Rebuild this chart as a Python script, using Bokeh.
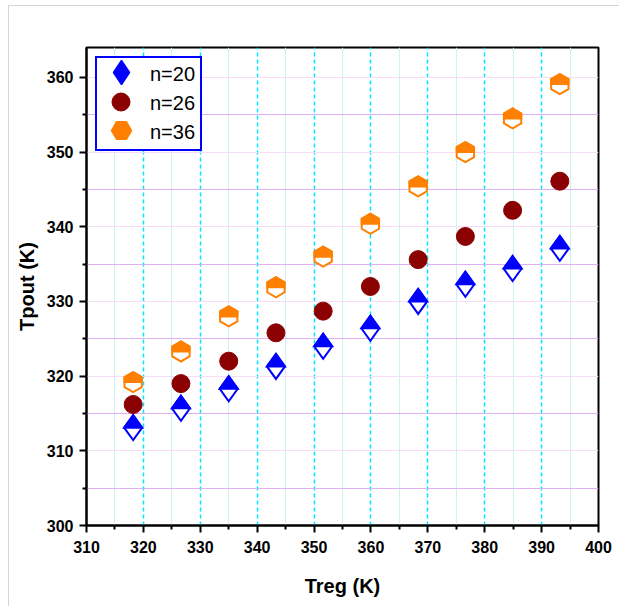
import math
from bokeh.plotting import figure
from bokeh.models import Range1d, Legend, LegendItem, FixedTicker
from bokeh.embed import file_html
from bokeh.resources import INLINE

# ---- data ----
treg = [318.2, 326.6, 335.0, 343.3, 351.6, 359.9, 368.3, 376.6, 384.9, 393.2]
tpout_n20 = [313.1, 315.7, 318.3, 321.3, 324.0, 326.4, 330.0, 332.3, 334.4, 337.1]
tpout_n26 = [316.2, 319.0, 322.0, 325.8, 328.7, 332.0, 335.6, 338.7, 342.2, 346.1]
tpout_n36 = [319.2, 323.3, 328.0, 331.9, 336.0, 340.4, 345.4, 350.0, 354.5, 359.1]
series_labels = ["n=20", "n=26", "n=36"]
x_ticks = [310, 320, 330, 340, 350, 360, 370, 380, 390, 400]
y_ticks = [300, 310, 320, 330, 340, 350, 360]

# ---- layout / style constants ----
X_MIN, X_MAX = 310, 400
Y_MIN, Y_MAX = 300, 364
FRAME_W, FRAME_H = 512, 478
PX_X = FRAME_W / (X_MAX - X_MIN)
PX_Y = FRAME_H / (Y_MAX - Y_MIN)

BLUE = "#0000ff"
DARKRED = "#8b0000"
ORANGE = "#ff8000"
FONT = "Liberation Sans"


def diamond_paths(xs, ys, hw, hh):
    dx, dy = hw / PX_X, hh / PX_Y
    full_x = [[x, x + dx, x, x - dx] for x in xs]
    full_y = [[y + dy, y, y - dy, y] for y in ys]
    top_x = [[x - dx, x, x + dx] for x in xs]
    top_y = [[y, y + dy, y] for y in ys]
    return full_x, full_y, top_x, top_y


def hex_paths(xs, ys, r):
    a = r * 0.8660254 / PX_X
    h = r / PX_Y
    full_x = [[x, x + a, x + a, x, x - a, x - a] for x in xs]
    full_y = [[y + h, y + h / 2, y - h / 2, y - h, y - h / 2, y + h / 2] for y in ys]
    top_x = [[x - a, x - a, x, x + a, x + a] for x in xs]
    top_y = [[y, y + h / 2, y + h, y + h / 2, y] for y in ys]
    return full_x, full_y, top_x, top_y


p = figure(
    frame_width=FRAME_W, frame_height=FRAME_H,
    x_range=Range1d(X_MIN, X_MAX), y_range=Range1d(Y_MIN, Y_MAX),
    output_backend="svg", toolbar_location=None,
    min_border_left=77, min_border_right=22, min_border_top=41, min_border_bottom=81,
    background_fill_color="white", border_fill_color="white",
)
p.styles = {"border-top": "1px solid #d4d4d4", "border-left": "1px solid #d4d4d4"}
p.margin = (5, 0, 0, 8)

p.outline_line_color = "black"
p.outline_line_width = 2

# ticks
p.xaxis.ticker = FixedTicker(ticks=x_ticks, minor_ticks=[t + 5 for t in x_ticks[:-1]])
p.yaxis.ticker = FixedTicker(ticks=y_ticks, minor_ticks=[t + 5 for t in y_ticks])

for ax in (p.xaxis, p.yaxis):
    ax.axis_line_width = 2
    ax.axis_line_color = "black"
    ax.major_tick_in = 0
    ax.major_tick_out = 7
    ax.minor_tick_in = 0
    ax.minor_tick_out = 4
    ax.major_tick_line_width = 2
    ax.minor_tick_line_width = 2
    ax.major_tick_line_color = "black"
    ax.minor_tick_line_color = "black"
    ax.major_label_text_font = FONT
    ax.major_label_text_font_size = "16px"
    ax.major_label_text_font_style = "bold"
    ax.major_label_text_color = "black"
    ax.major_label_standoff = 6
    ax.axis_label_text_font = FONT
    ax.axis_label_text_font_size = "20px"
    ax.axis_label_text_font_style = "bold"
    ax.axis_label_text_color = "black"

p.xaxis.major_label_standoff = 8
p.xaxis.axis_label = "Treg (K)"
p.yaxis.axis_label = "Tpout (K)"
p.xaxis.axis_label_standoff = 19
p.yaxis.axis_label_standoff = 6

# grids
p.xgrid.grid_line_color = "#00e5ff"
p.xgrid.grid_line_dash = "4 3"
p.xgrid.grid_line_width = 1.5
p.xgrid.minor_grid_line_color = "#cdf1f5"
p.xgrid.minor_grid_line_width = 1
p.ygrid.grid_line_color = "#f7dbf7"
p.ygrid.grid_line_width = 1
p.ygrid.minor_grid_line_color = "#dcb0f2"
p.ygrid.minor_grid_line_width = 1

# invisible renderer used by the text part of the legend
r_blank = p.scatter(treg[:1], tpout_n20[:1], marker="circle", size=1,
                    fill_alpha=0, line_alpha=0)

# legend proxies (small, hidden below the half-filled shapes)
r20 = p.scatter(treg, tpout_n20, marker="diamond", size=6,
                fill_color=BLUE, line_color=BLUE, line_width=1.5)
r36 = p.scatter(treg, tpout_n36, marker="hex", size=6, angle=math.pi / 2,
                fill_color=ORANGE, line_color=ORANGE, line_width=1.5)

# n=20 half-filled diamonds
fx, fy, tx, ty = diamond_paths(treg, tpout_n20, 9.0, 12.5)
p.patches(fx, fy, fill_color="white", line_color=BLUE, line_width=2, line_join="miter")
p.patches(tx, ty, fill_color=BLUE, line_color=BLUE, line_width=2, line_join="miter")

# n=26 filled circles
r26 = p.scatter(treg, tpout_n26, marker="circle", size=18,
                fill_color=DARKRED, line_color=DARKRED, line_width=1)

# n=36 half-filled hexagons
fx, fy, tx, ty = hex_paths(treg, tpout_n36, 10.0)
p.patches(fx, fy, fill_color="white", line_color=ORANGE, line_width=2, line_join="miter")
p.patches(tx, ty, fill_color=ORANGE, line_color=ORANGE, line_width=2, line_join="miter")

# legend box with the labels
legend = Legend(
    items=[LegendItem(label=lab, renderers=[r_blank]) for lab in series_labels],
    location="top_left", margin=9, padding=5, spacing=6,
    glyph_width=37, glyph_height=20, label_standoff=11, label_width=45,
    label_text_font=FONT, label_text_font_size="20px", label_text_color="black",
    border_line_color=BLUE, border_line_width=2, border_line_alpha=1.0,
    background_fill_color="white", background_fill_alpha=1.0,
)
p.add_layout(legend)

# large legend symbols drawn over the box, one per series
GLYPH_CX = 34.7
for rend, cy, box in ((r20, 453.0, 60), (r26, 424.0, 45), (r36, 395.0, 50)):
    glyph_legend = Legend(
        items=[LegendItem(label=" ", renderers=[rend])],
        location=(GLYPH_CX - box / 2, cy - box / 2), margin=0, padding=0,
        glyph_width=box, glyph_height=box, label_standoff=0, label_width=1,
        label_text_font_size="1px",
        border_line_alpha=0, background_fill_alpha=0,
    )
    p.add_layout(glyph_legend)

open("out.html", "w").write(file_html(p, INLINE))
